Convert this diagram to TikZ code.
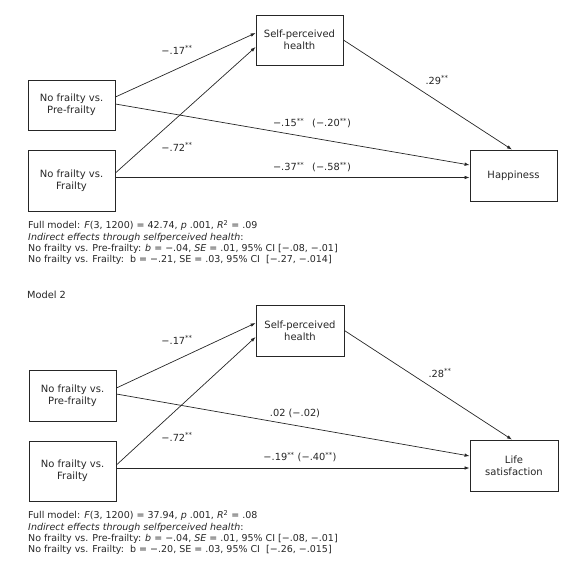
\documentclass[tikz,border=0pt]{standalone}
\usepackage{fontspec}
\setmainfont{DejaVu Sans}
\usetikzlibrary{arrows.meta}
\definecolor{ink}{rgb}{0.15, 0.15, 0.15}
\tikzset{
  varbox/.style={draw=ink, line width=0.8pt, minimum width=87pt,
    minimum height=50pt, align=center, inner sep=1pt, text=ink,
    font=\fontsize{10}{12}\selectfont},
  effect/.style={draw=ink, line width=0.7pt,
    -{Latex[length=5pt,width=3.5pt]}},
  coef/.style={text=ink, inner sep=0pt, font=\fontsize{9.8}{11}\selectfont},
  note/.style={text=ink, inner sep=0pt, align=left, anchor=north west,
    font=\fontsize{9.5}{11.2}\selectfont},
}
\newcommand{\sig}{\textsuperscript{**}}

\begin{document}
\begin{tikzpicture}[x=1pt, y=-1pt]
        \useasboundingbox (0,0) rectangle (567,569);
        % Model 1: the variables
        \node[varbox] (pre1) at (71.5,105) {No frailty vs.\\Pre-frailty};
        \node[varbox, minimum height=61pt] (fra1) at (71.5,180.5)
        {No frailty vs.\\Frailty};
        \node[varbox] (sph1) at (299.5,40) {Self-perceived\\health};
        \node[varbox, minimum height=51pt] (hap1) at (513.5,175.5)
        {Happiness};
        % Model 1: paths
        \draw[effect] ([yshift=8pt]pre1.east) -- ([yshift=7pt]sph1.west);
        \draw[effect] ([yshift=7.5pt]fra1.east) -- ([yshift=-7pt]sph1.west);
        \draw[effect] ([yshift=1pt]pre1.east) -- ([yshift=10.5pt]hap1.west);
        \draw[effect] ([yshift=3pt]fra1.east) -- ([yshift=-2pt]hap1.west);
        \draw[effect] (sph1.east) -- ([xshift=-1.5pt]hap1.north);
        % Model 1: coefficients
        \node[coef] (a1) at (177,50) {−.17\sig};
        \node[coef] (a2) at (177,147) {−.72\sig};
        \node[coef] (b1) at (437,80) {.29\sig};
        \node[coef] (c1) at (312,123) {−.15\sig\hspace{8pt}(−.20\sig)};
        \node[coef] (c2) at (312,167) {−.37\sig\hspace{8pt}(−.58\sig)};
        % Model 1: fit and indirect effects
        \node[note] (fit1) at (28,220) {Full model: \textit{F}(3, 1200) =
        42.74, \textit{p} .001, \textit{R}\textsuperscript{2} = .09\\
        \textit{Indirect effects through selfperceived health}:\\
        No frailty vs. Pre-frailty: \textit{b} = −.04, \textit{SE} = .01,
        95\% CI [−.08, −.01]\\
        No frailty vs. Frailty:\ \ b = −.21, SE = .03, 95\% CI\ \ [−.27,
        −.014]};
        % Model 2
        \node[coef, anchor=west] (title2) at (27,295) {Model 2};
        \node[varbox, minimum height=51pt] (pre2) at (72.5,395.5)
        {No frailty vs.\\Pre-frailty};
        \node[varbox, minimum height=60pt] (fra2) at (72.5,471)
        {No frailty vs.\\Frailty};
        \node[varbox, minimum width=88pt, minimum height=51pt] (sph2)
        at (300,330.5) {Self-perceived\\health};
        \node[varbox, minimum width=88pt, minimum height=51pt] (ls2)
        at (514,465.5) {Life\\satisfaction};
        % Model 2: paths
        \draw[effect] ([yshift=7.5pt]pre2.east) -- ([yshift=7.5pt]sph2.west);
        \draw[effect] ([yshift=6pt]fra2.east) -- ([yshift=-6.5pt]sph2.west);
        \draw[effect] ([yshift=1.5pt]pre2.east) -- ([yshift=9.5pt]ls2.west);
        \draw[effect] ([yshift=3pt]fra2.east) -- ([yshift=-2.5pt]ls2.west);
        \draw[effect] (sph2.east) -- ([xshift=-2pt]ls2.north);
        % Model 2: coefficients
        \node[coef] (a3) at (177,340) {−.17\sig};
        \node[coef] (a4) at (177,437) {−.72\sig};
        \node[coef] (b2) at (440,373) {.28\sig};
        \node[coef] (c3) at (295,413) {.02 (−.02)};
        \node[coef] (c4) at (300,457) {−.19\sig{} (−.40\sig)};
        % Model 2: fit and indirect effects
        \node[note] (fit2) at (28,510) {Full model: \textit{F}(3, 1200) =
        37.94, \textit{p} .001, \textit{R}\textsuperscript{2} = .08\\
        \textit{Indirect effects through selfperceived health}:\\
        No frailty vs. Pre-frailty: \textit{b} = −.04, \textit{SE} = .01,
        95\% CI [−.08, −.01]\\
        No frailty vs. Frailty:\ \ b = −.20, SE = .03, 95\% CI\ \ [−.26,
        −.015]};
\end{tikzpicture}
\end{document}
